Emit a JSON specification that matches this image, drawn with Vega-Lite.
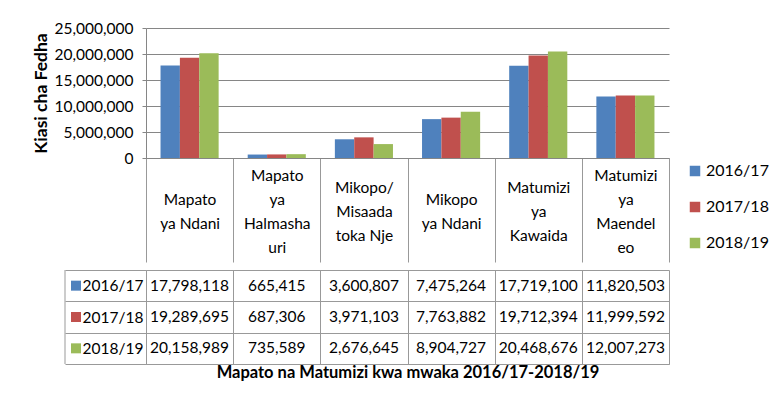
{
  "$schema": "https://vega.github.io/schema/vega-lite/v6.json",
  "padding": {"left": 32, "top": 21, "right": 5, "bottom": 5},
  "background": "white",
  "config": {
    "font": "Lato",
    "view": {"stroke": null},
    "axis": {"labelFont": "Lato", "titleFont": "Lato", "labelColor": "#000000", "titleColor": "#000000", "labelFontSize": 15.5, "titleFontSize": 15},
    "legend": {"labelFont": "Lato"}
  },
  "datasets": {
    "main": [
      {"category": "Mapato ya Ndani", "series": "2016/17", "value": 17798118},
      {"category": "Mapato ya Ndani", "series": "2017/18", "value": 19289695},
      {"category": "Mapato ya Ndani", "series": "2018/19", "value": 20158989},
      {"category": "Mapato ya Halmashauri", "series": "2016/17", "value": 665415},
      {"category": "Mapato ya Halmashauri", "series": "2017/18", "value": 687306},
      {"category": "Mapato ya Halmashauri", "series": "2018/19", "value": 735589},
      {"category": "Mikopo/ Misaada toka Nje", "series": "2016/17", "value": 3600807},
      {"category": "Mikopo/ Misaada toka Nje", "series": "2017/18", "value": 3971103},
      {"category": "Mikopo/ Misaada toka Nje", "series": "2018/19", "value": 2676645},
      {"category": "Mikopo ya Ndani", "series": "2016/17", "value": 7475264},
      {"category": "Mikopo ya Ndani", "series": "2017/18", "value": 7763882},
      {"category": "Mikopo ya Ndani", "series": "2018/19", "value": 8904727},
      {"category": "Matumizi ya Kawaida", "series": "2016/17", "value": 17719100},
      {"category": "Matumizi ya Kawaida", "series": "2017/18", "value": 19712394},
      {"category": "Matumizi ya Kawaida", "series": "2018/19", "value": 20468676},
      {"category": "Matumizi ya Maendeleo", "series": "2016/17", "value": 11820503},
      {"category": "Matumizi ya Maendeleo", "series": "2017/18", "value": 11999592},
      {"category": "Matumizi ya Maendeleo", "series": "2018/19", "value": 12007273}
    ]
  },
  "spacing": 0,
  "vconcat": [
    {
      "width": 523,
      "height": 130,
      "data": {"name": "main"},
      "mark": {"type": "bar"},
      "encoding": {
        "x": {
          "field": "category", "type": "nominal",
          "sort": ["Mapato ya Ndani", "Mapato ya Halmashauri", "Mikopo/ Misaada toka Nje", "Mikopo ya Ndani", "Matumizi ya Kawaida", "Matumizi ya Maendeleo"],
          "scale": {"paddingInner": 0, "paddingOuter": 0},
          "axis": {
            "title": null, "tickBand": "extent", "tickSize": 104, "tickColor": "#999999", "domainColor": "#868686",
            "labelAngle": 0, "labelBaseline": "middle", "labelLineHeight": 24, "labelOverlap": false,
            "labelPadding": {
              "condition": [
                {"test": "datum.value == 'Mapato ya Halmashauri' || datum.value == 'Matumizi ya Maendeleo'", "value": -87},
                {"test": "datum.value == 'Mikopo/ Misaada toka Nje' || datum.value == 'Matumizi ya Kawaida'", "value": -75}
              ],
              "value": -63
            },
            "labelExpr": "datum.value == 'Mapato ya Ndani' ? ['Mapato','ya Ndani'] : datum.value == 'Mapato ya Halmashauri' ? ['Mapato','ya','Halmasha','uri'] : datum.value == 'Mikopo/ Misaada toka Nje' ? ['Mikopo/','Misaada','toka Nje'] : datum.value == 'Mikopo ya Ndani' ? ['Mikopo','ya Ndani'] : datum.value == 'Matumizi ya Kawaida' ? ['Matumizi','ya','Kawaida'] : datum.value == 'Matumizi ya Maendeleo' ? ['Matumizi','ya','Maendel','eo'] : ''"
          }
        },
        "xOffset": {"field": "series", "type": "nominal", "scale": {"paddingInner": 0, "paddingOuter": 0.75}},
        "y": {
          "field": "value", "type": "quantitative",
          "scale": {"domain": [0, 25000000]},
          "axis": {
            "title": "Kiasi cha Fedha", "titleFontWeight": "bold", "titleFontSize": 17.5, "titlePadding": 4,
            "values": [0, 5000000, 10000000, 15000000, 20000000, 25000000], "format": ",d",
            "tickSize": 4, "labelPadding": 9, "domainColor": "#868686", "tickColor": "#868686", "gridColor": "#868686", "gridOpacity": 1
          }
        },
        "color": {
          "field": "series", "type": "nominal",
          "scale": {"domain": ["2016/17", "2017/18", "2018/19"], "range": ["#4F81BD", "#C0504D", "#9BBB59"]},
          "legend": {"orient": "none", "legendX": 541, "legendY": 135, "title": null, "symbolType": "square", "symbolSize": 110, "symbolStrokeWidth": 0, "labelFontSize": 16, "rowPadding": 20, "labelOffset": 3}
        }
      }
    },
    {
      "width": 523,
      "height": 94,
      "data": {"name": "main"},
      "layer": [
        {
          "mark": {"type": "text", "fontSize": 15.5, "color": "#000000"},
          "encoding": {
            "x": {
              "field": "category", "type": "nominal",
              "sort": ["Mapato ya Ndani", "Mapato ya Halmashauri", "Mikopo/ Misaada toka Nje", "Mikopo ya Ndani", "Matumizi ya Kawaida", "Matumizi ya Maendeleo"],
              "scale": {"paddingInner": 0, "paddingOuter": 0},
              "axis": {
                "title": "Mapato na Matumizi kwa mwaka 2016/17-2018/19", "titleFontWeight": "bold", "titleFontSize": 16.5, "titlePadding": 0,
                "labels": false, "ticks": false, "grid": true, "tickBand": "extent", "gridColor": "#999999", "gridOpacity": 1, "domainColor": "#999999"
              }
            },
            "y": {
              "field": "series", "type": "nominal",
              "scale": {"paddingInner": 0, "paddingOuter": 0},
              "axis": {
                "title": null, "grid": true, "tickBand": "extent", "tickSize": 81, "labelPadding": -78, "tickColor": "#999999", "gridColor": "#999999", "gridOpacity": 1, "domainColor": "#999999"
              }
            },
            "text": {"field": "value", "type": "quantitative", "format": ","}
          }
        },
        {
          "transform": [{"filter": "datum.category == 'Mapato ya Ndani'"}],
          "mark": {"type": "point", "shape": "square", "filled": true, "size": 100, "opacity": 1, "xOffset": -70},
          "encoding": {
            "x": {"datum": "Mapato ya Ndani", "type": "nominal", "bandPosition": 0},
            "y": {"field": "series", "type": "nominal"},
            "color": {
              "field": "series", "type": "nominal",
              "legend": {"orient": "none", "legendX": 541, "legendY": 135, "title": null, "symbolType": "square", "symbolSize": 110, "symbolStrokeWidth": 0, "labelFontSize": 16, "rowPadding": 20, "labelOffset": 3}
            }
          }
        },
        {
          "data": {"values": [{}]},
          "mark": {"type": "rule", "xOffset": -81, "color": "#999999"},
          "encoding": {"x": {"datum": "Mapato ya Ndani", "type": "nominal", "bandPosition": 0}}
        }
      ]
    }
  ]
}
